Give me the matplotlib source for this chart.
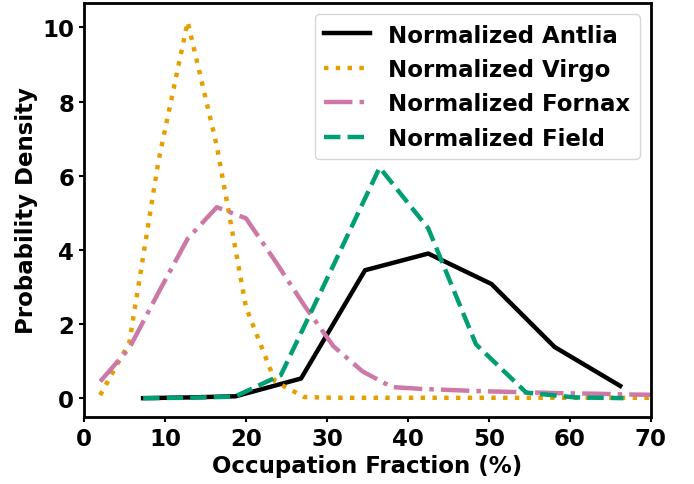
import numpy as np
import matplotlib
matplotlib.use("Agg")
import matplotlib.pyplot as plt

# values
antlia_x = [7.3, 13.0, 18.7, 26.8, 34.7, 42.5, 50.3, 58.1, 66.2]
antlia_y = [0.0, 0.02, 0.05, 0.53, 3.45, 3.9, 3.08, 1.38, 0.33]

virgo_x = [2.0, 5.6, 9.2, 12.8, 16.4, 20.0, 23.6, 27.2, 30.8, 34.4, 38.0, 41.6,
           45.2, 48.8, 52.4, 56.0, 59.6, 63.2, 66.8, 70.4]
virgo_y = [0.08, 1.5, 6.4, 10.15, 6.8, 2.45, 0.45, 0.03, 0.01, 0.01, 0.01, 0.01,
           0.01, 0.01, 0.01, 0.01, 0.01, 0.01, 0.01, 0.01]

fornax_x = virgo_x
fornax_y = [0.45, 1.35, 2.85, 4.3, 5.15, 4.85, 3.7, 2.5, 1.4, 0.72, 0.3, 0.25,
            0.22, 0.19, 0.17, 0.15, 0.13, 0.12, 0.1, 0.09]

field_x = [7.3, 12.5, 18.6, 24.3, 30.4, 36.5, 42.5, 48.4, 54.6, 60.6, 66.6]
field_y = [0.0, 0.01, 0.04, 0.62, 3.4, 6.22, 4.58, 1.45, 0.15, 0.02, 0.0]

plt.rcParams['font.weight'] = 'bold'
plt.rcParams['axes.labelweight'] = 'bold'

fig = plt.figure(figsize=(6.94, 4.85), dpi=100)
ax = fig.add_axes([0.121, 0.138, 0.817, 0.854])

ax.plot(antlia_x, antlia_y, color='black', lw=3.2, ls='-', label='Normalized Antlia')
ax.plot(virgo_x, virgo_y, color='#E69F00', lw=3.2, ls=':', label='Normalized Virgo')
ax.plot(fornax_x, fornax_y, color='#CC79A7', lw=3.2, ls='-.', label='Normalized Fornax')
ax.plot(field_x, field_y, color='#009E73', lw=3.2, ls='--', label='Normalized Field')

ax.set_xlim(0, 70)
ax.set_ylim(-0.51, 10.66)
ax.set_xlabel('Occupation Fraction (%)', fontsize=16.5, fontweight='bold', labelpad=3)
ax.set_ylabel('Probability Density', fontsize=16.5, fontweight='bold', labelpad=3)
ax.tick_params(labelsize=16.5, width=1.5)
for s in ax.spines.values():
    s.set_linewidth(2)

ax.legend(loc='upper right', prop={'weight': 'bold', 'size': 16.5})

fig.savefig('out.png', dpi=100)
